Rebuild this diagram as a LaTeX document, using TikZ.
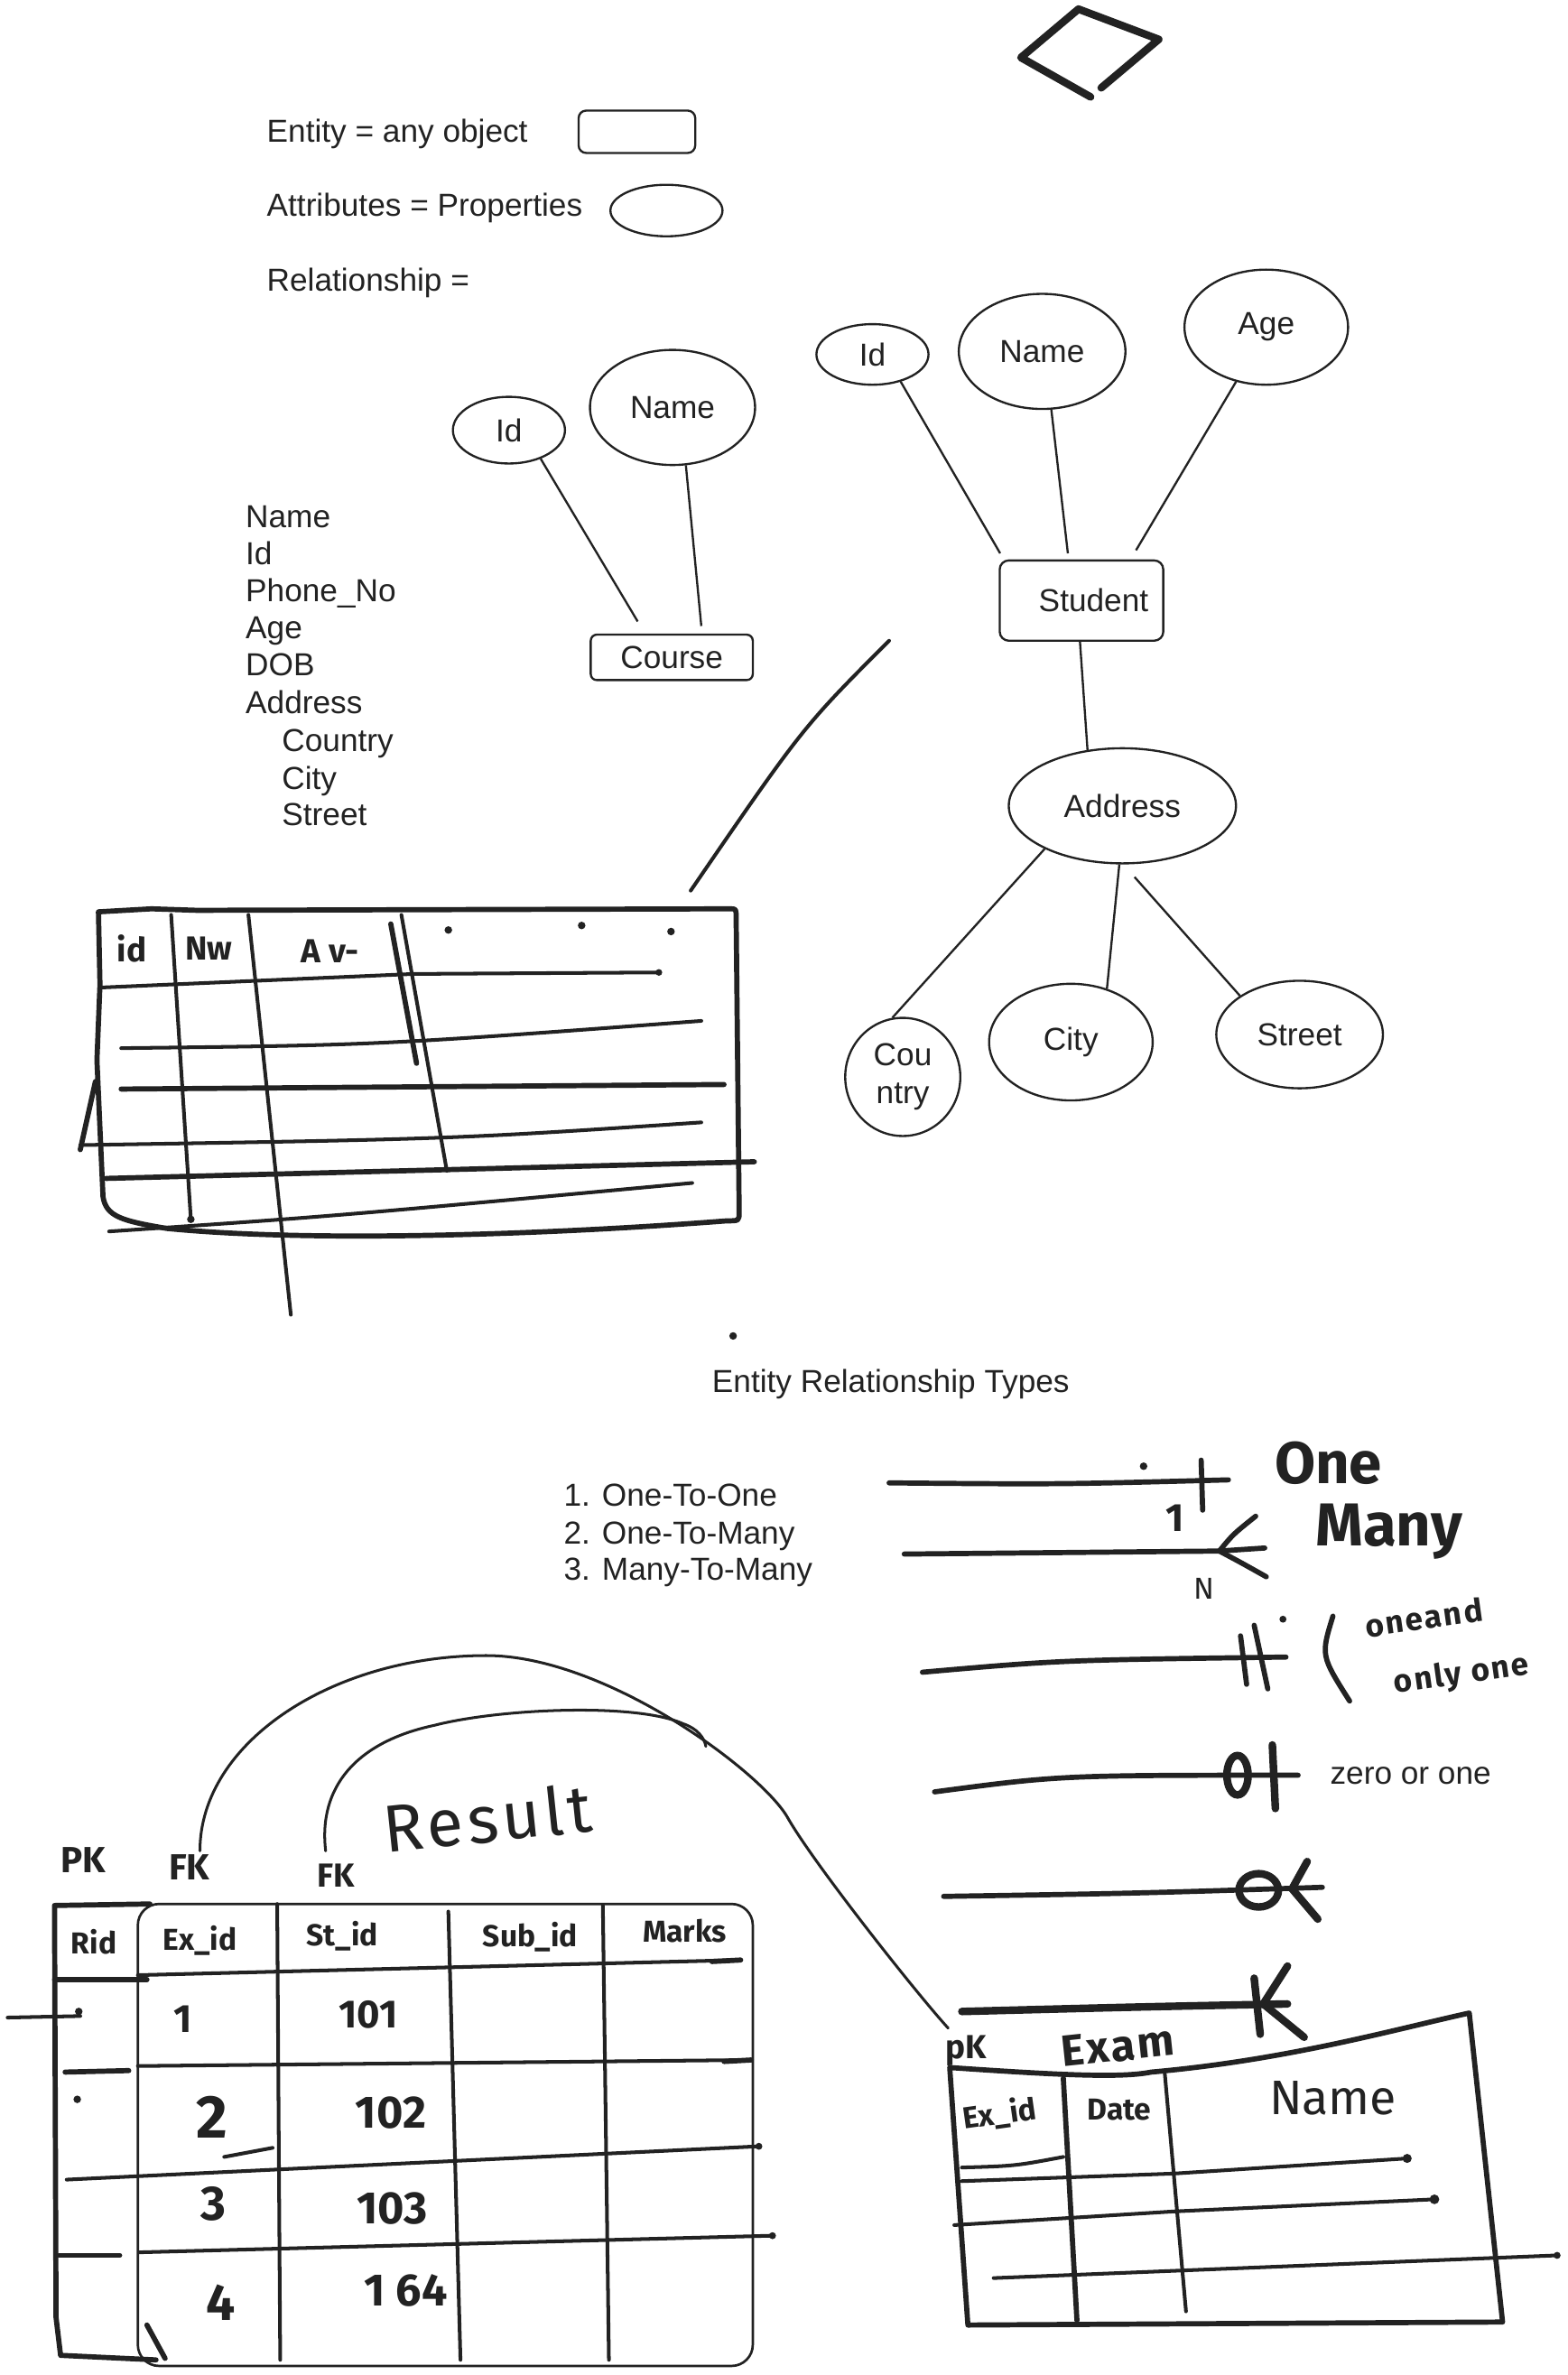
\documentclass[tikz,border=0pt]{standalone}
\usepackage{fontspec}
\setmainfont{Liberation Sans}
\newfontfamily\handfont{Fira Sans}
\newfontfamily\handspaced{Fira Sans}[LetterSpace=6]
\usetikzlibrary{shapes.geometric,calc}
\definecolor{ink}{HTML}{222222}
\begin{document}
\begin{tikzpicture}[x=1pt,y=-1pt,
  every node/.style={text=ink},
  typed/.style={font=\fontsize{21}{25}\selectfont, inner sep=0pt},
  hand/.style={font=\handfont\bfseries\fontsize{#1}{#1}\selectfont, inner sep=0pt},
  hand/.default=20,
  handl/.style={font=\handfont\fontsize{#1}{#1}\selectfont, inner sep=0pt},
  handl/.default=20,
  hands/.style={font=\handspaced\bfseries\fontsize{#1}{#1}\selectfont, inner sep=0pt},
  handsl/.style={font=\handspaced\fontsize{#1}{#1}\selectfont, inner sep=0pt},
  thinl/.style={draw=ink, line width=1.4pt},
  pen/.style={draw=ink, line width=3.4pt, line cap=round, line join=round},
  bpen/.style={draw=ink, line width=5pt, line cap=round, line join=round},
  mpen/.style={draw=ink, line width=2.4pt, line cap=round, line join=round},
  attr/.style={ellipse, draw=ink, line width=1.4pt, inner sep=0pt, font=\fontsize{21}{25}\selectfont},
  ent/.style={rectangle, rounded corners=5pt, draw=ink, line width=1.4pt, inner sep=0pt, font=\fontsize{21}{25}\selectfont},
  dotm/.style={fill=ink, draw=none},
]
\useasboundingbox[fill=white] (0,0) rectangle (1035,1568);

% ---------- hand-drawn diamond ----------
\draw[bpen] (720,64) -- (674,38) -- (712,6) -- (765,26) -- (727,58);

% ---------- legend ----------
\node[typed, anchor=base west] (lg1) at (176,94) {Entity = any object};
\node[typed, anchor=base west] (lg2) at (176,143) {Attributes = Properties};
\node[typed, anchor=base west] (lg3) at (176,192) {Relationship =};
\node[ent, minimum width=77pt, minimum height=28pt] (entbox) at (420.5,87) {};
\node[attr, minimum width=74pt, minimum height=34pt] (attrell) at (440,139) {};

% ---------- attribute list ----------
\node[typed, anchor=base west] (l1) at (162,348.5) {Name};
\node[typed, anchor=base west] (l2) at (162,372.5) {Id};
\node[typed, anchor=base west] (l3) at (162,397) {Phone\_No};
\node[typed, anchor=base west] (l4) at (162,421.5) {Age};
\node[typed, anchor=base west] (l5) at (162,446) {DOB};
\node[typed, anchor=base west] (l6) at (162,471) {Address};
\node[typed, anchor=base west] (l7) at (186,496) {Country};
\node[typed, anchor=base west] (l8) at (186,521) {City};
\node[typed, anchor=base west] (l9) at (186,545) {Street};

% ---------- Course ER ----------
\node[attr, minimum width=74pt, minimum height=44pt] (cid) at (336,284) {Id};
\node[attr, minimum width=109pt, minimum height=76pt] (cname) at (444,269) {Name};
\node[ent, rounded corners=4pt, minimum width=107pt, minimum height=30pt] (course) at (443.5,434) {Course};
\draw[thinl] (cid.-42) -- ([xshift=-22.5pt,yshift=8pt]course.north);
\draw[thinl] (cname.-77) -- ([xshift=19.5pt,yshift=5pt]course.north);

% ---------- Student ER ----------
\node[attr, minimum width=74pt, minimum height=40pt] (sid) at (576,234) {Id};
\node[attr, minimum width=110pt, minimum height=76pt] (sname) at (688,232) {Name};
\node[attr, minimum width=108pt, minimum height=76pt] (sage) at (836,216) {Age};
\node[ent, rounded corners=6pt, minimum width=108pt, minimum height=53pt] (student) at (714,396.5) {\hspace*{16pt}Student};
\node[attr, minimum width=150pt, minimum height=76pt] (address) at (741,532) {Address};
\node[attr, minimum width=76pt, minimum height=78pt, align=center] (country) at (596,711) {Cou\\ntry};
\node[attr, minimum width=108pt, minimum height=77pt] (city) at (707,688) {City};
\node[attr, minimum width=110pt, minimum height=71pt] (street) at (858,683) {Street};
\draw[thinl] (sid.-44) -- ([xshift=1pt,yshift=4pt]student.north west);
\draw[thinl] (sname.-81) -- ([xshift=-9pt,yshift=4pt]student.north);
\draw[thinl] (sage.-119) -- ([xshift=36pt,yshift=6pt]student.north);
\draw[thinl] ([xshift=-1pt]student.south) -- (address.122);
\draw[thinl] (address.-151) -- (country.100);
\draw[thinl] (address.-93) -- (city.56);
\draw[thinl] ($(address.center)+(8,47)$) -- (street.147);

% ---------- slanted stroke ----------
\coordinate (sl1) at (587,423);
\coordinate (sl2) at (456,588);
\draw[mpen] (sl1) .. controls (530,480) .. (sl2);

% ---------- sketch table 1 ----------
\draw[pen] (65,602) -- (100,600) -- (130,601) -- (482,600) .. controls (486,600) .. (486,606)
  -- (488,800) .. controls (488,806) .. (480,806) .. controls (350,816) and (200,820) .. (110,811)
  .. controls (80,806) and (70,803) .. (68,790) -- (64,700) -- (66,650) -- cycle;
\draw[pen] (63,714) -- (53,759);
\draw[mpen] (66,652) -- (273,643) -- (435,642);
\draw[mpen] (80,692) .. controls (250,690) .. (463,674);
\draw[pen] (80,719) -- (478,716);
\draw[mpen] (53,756) .. controls (300,752) .. (463,741);
\draw[pen] (70,778) -- (498,767);
\draw[mpen] (72,813) .. controls (220,803) .. (457,781);
\draw[mpen] (113,604) -- (126,805);
\draw[mpen] (164,604) -- (192,868);
\draw[mpen] (265,604) -- (295,773);
\draw[pen] (258,610) -- (275,702);
\fill[dotm] (296,614) circle (2.5) (384,611) circle (2.5) (443,615) circle (2.5) (435,642) circle (2.2) (126,805) circle (2.5);
\node[hand=22] (h1) at (87,626) {id};
\node[hand=22] (h2) at (138,626) {Nw};
\node[hand=22] (h3) at (218,628) {A v-};

% ---------- Entity Relationship Types ----------
\fill[dotm] (484,882) circle (2.5);
\node[typed, anchor=base west] (ert) at (470,919.5) {Entity Relationship Types};
\node[typed, anchor=base west] (e1) at (372,994.5) {1. One-To-One};
\node[typed, anchor=base west] (e2) at (372,1019.5) {2. One-To-Many};
\node[typed, anchor=base west] (e3) at (372,1043.5) {3. Many-To-Many};

% notation 1: one
\draw[pen] (587,979) .. controls (700,980) .. (811,977);
\draw[pen] (793,964) -- (794,997);
\fill[dotm] (755,968) circle (2.5);
\node[hand=26] (n1) at (776,1002) {1};
\node[hand=39] (one) at (877,966) {One};
% notation 2: many
\draw[pen] (597,1026) -- (805,1024);
\draw[pen] (829,1001) .. controls (814,1013) .. (805,1024) .. controls (820,1032) .. (836,1041);
\draw[pen] (805,1024) -- (835,1022);
\node[handl=20] (nN) at (795,1049) {N};
\node[hand=40] (many) at (917,1011) {Many};
% notation 3: one and only one
\draw[pen] (609,1104) .. controls (700,1096) .. (849,1094);
\draw[pen] (819,1080) -- (823,1112);
\draw[pen] (828,1073) -- (837,1115);
\fill[dotm] (847,1069) circle (2.3);
\draw[pen] (880,1067) .. controls (872,1093) .. (891,1123);
\node[hands=21, rotate=8] (oa1) at (940,1068) {oneand};
\node[hands=21, rotate=8] (oa2) at (965,1106) {only one};
% notation 4: zero or one
\draw[pen] (617,1183) .. controls (700,1172) .. (857,1172);
\draw[line width=5pt, draw=ink] (817,1172) ellipse (7 and 13);
\draw[bpen] (840,1152) -- (842,1194);
\node[typed, anchor=base west] (zo) at (878,1178) {zero or one};
% notation 5: zero or many
\draw[pen] (623,1252) .. controls (750,1250) .. (873,1246);
\draw[line width=5pt, draw=ink] (831,1248) ellipse (13 and 11);
\draw[bpen] (863,1229) -- (853,1247) -- (870,1267);
% notation 6: many (K)
\draw[bpen] (635,1328) .. controls (750,1325) .. (850,1323);
\draw[bpen] (828,1306) -- (832,1343);
\draw[bpen] (850,1298) -- (834,1323) -- (861,1345);

% ---------- Result table ----------
\draw[draw=ink, line width=1.6pt, rounded corners=14pt] (91,1257) rectangle (497,1562);
\draw[pen] (99,1257) -- (36,1258) -- (37,1530) -- (40,1555) -- (103,1558);
\draw[pen] (36,1307) -- (97,1307);
\draw[mpen] (91,1304) -- (489,1294);
\draw[pen] (470,1295) -- (489,1294);
\draw[mpen] (183,1257) -- (185,1558);
\draw[mpen] (296,1262) -- (304,1558);
\draw[mpen] (398,1258) -- (402,1558);
\draw[mpen] (91,1364) -- (496,1360);
\draw[pen] (478,1361) -- (496,1360);
\draw[mpen] (44,1439) -- (501,1417);
\draw[mpen] (92,1487) -- (510,1476);
\draw[mpen] (5,1332) -- (53,1331);
\draw[pen] (43,1368) -- (85,1367);
\draw[pen] (39,1489) -- (79,1489);
\draw[pen] (97,1535) -- (109,1557);
\draw[mpen] (148,1424) -- (180,1418);
\fill[dotm] (52,1328) circle (2.5) (51,1386) circle (2.5) (510,1476) circle (2.3) (501,1417) circle (2.3);
\node[hand=20] (rh1) at (62,1282) {Rid};
\node[hand=20] (rh2) at (132,1281) {Ex\_id};
\node[hand=20] (rh3) at (226,1278) {St\_id};
\node[hand=20] (rh4) at (350,1279) {Sub\_id};
\node[hand=20] (rh5) at (452,1275) {Marks};
\node[hand=26] (rc1) at (121,1333) {1};
\node[hand=26] (rc2) at (243,1330) {101};
\node[hand=40] (rc3) at (140,1398) {2};
\node[hand=30] (rc4) at (258,1395) {102};
\node[hand=32] (rc5) at (141,1455) {3};
\node[hand=30] (rc6) at (259,1458) {103};
\node[hand=34] (rc7) at (146,1520) {4};
\node[hand=30] (rc8) at (268,1512) {1 64};
\node[hand=24] (pk1) at (55,1228) {PK};
\node[hand=24] (fk1) at (125,1233) {FK};
\node[hand=22] (fk2) at (222,1238) {FK};
\node[handsl=44, rotate=6] (result) at (322,1200) {Result};

% ---------- Exam table ----------
\draw[pen] (627,1365) .. controls (700,1370) and (740,1372) .. (760,1368)
  .. controls (850,1360) and (920,1340) .. (970,1329) -- (992,1533) -- (639,1535) -- cycle;
\draw[pen] (702,1372) -- (711,1532);
\draw[mpen] (769,1369) -- (783,1526);
\draw[mpen] (635,1431) .. controls (670,1430) .. (702,1424);
\draw[mpen] (635,1440) -- (775,1435) -- (929,1425);
\draw[mpen] (630,1469) -- (775,1460) -- (947,1452);
\draw[mpen] (656,1504) -- (1028,1489);
\fill[dotm] (929,1425) circle (3) (947,1452) circle (3.2) (1028,1489) circle (2.3);
\node[hand=22] (pk2) at (638,1354) {pK};
\node[hands=29, rotate=6] (exam) at (738,1351) {Exam};
\node[hand=20, rotate=8] (xh1) at (660,1396) {Ex\_id};
\node[hand=20] (xh2) at (739,1393) {Date};
\node[handl=32] (xh3) at (880,1385) {Name};

% ---------- FK connectors ----------
\coordinate (c1a) at (132,1222);
\coordinate (c1b) at (626,1339);
\draw[draw=ink, line width=1.8pt, line cap=round] (c1a) .. controls (132,1150) and (220,1093) .. (321,1093)
  .. controls (400,1093) and (503,1170) .. (520,1200)
  .. controls (537,1230) and (605,1316) .. (c1b);
\coordinate (c2a) at (215,1222);
\coordinate (c2b) at (466,1153);
\draw[draw=ink, line width=1.8pt, line cap=round] (c2a) .. controls (210,1180) and (235,1150) .. (287,1139)
  .. controls (330,1128) and (420,1124) .. (451,1138)
  .. controls (460,1141) and (465,1147) .. (c2b);
\end{tikzpicture}
\end{document}
